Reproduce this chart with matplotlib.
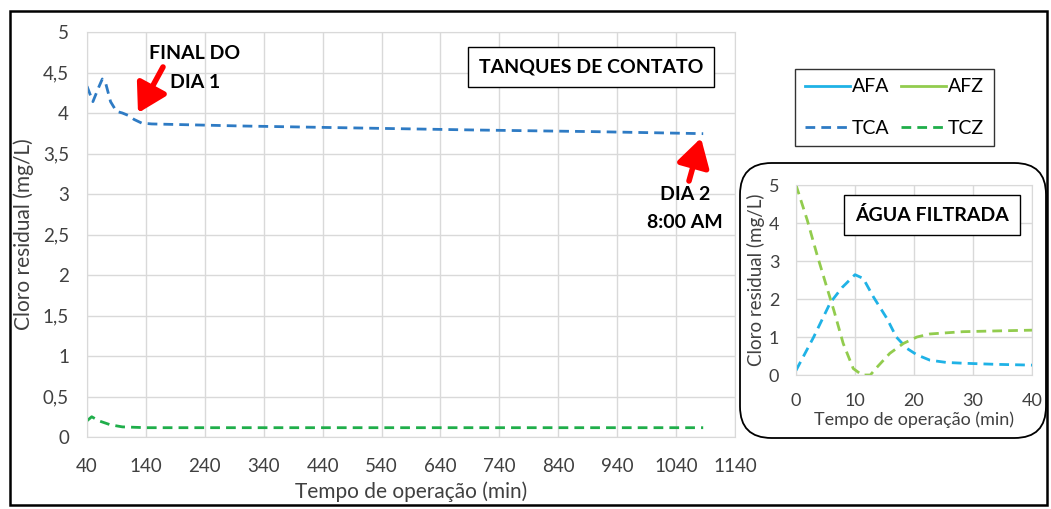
import numpy as np
import matplotlib
matplotlib.use('Agg')
import matplotlib.pyplot as plt
from matplotlib.lines import Line2D
from matplotlib.patches import Rectangle, FancyBboxPatch
from matplotlib.ticker import FuncFormatter

plt.rcParams['font.family'] = ['Lato', 'DejaVu Sans']

# tanques de contato
tca_t = [40, 50, 60, 66, 72, 80, 90, 100, 110, 120, 133, 150, 300, 500, 700, 900, 1086]
tca_v = [4.33, 4.14, 4.32, 4.42, 4.36, 4.14, 4.02, 4.00, 3.97, 3.92, 3.875, 3.865, 3.84, 3.815, 3.79, 3.77, 3.745]
tcz_t = [40, 48, 60, 80, 100, 140, 400, 700, 1086]
tcz_v = [0.20, 0.25, 0.20, 0.15, 0.125, 0.115, 0.115, 0.115, 0.115]

# agua filtrada
af_t = [0, 3, 5.8, 7.8, 10, 11.4, 13.1, 15.4, 17, 18.8, 20.5, 22.7, 25.5, 28.3, 34, 40]
afa_v = [0.12, 1.0, 1.9, 2.3, 2.64, 2.54, 2.06, 1.49, 1.0, 0.7, 0.53, 0.39, 0.33, 0.31, 0.28, 0.26]
afz_t = [0, 1.9, 3.5, 5.2, 6.4, 8, 9.7, 11.2, 12.6, 13.7, 15.9, 18.2, 20.5, 22.7, 28.3, 34, 40]
afz_v = [5.0, 4.08, 3.2, 2.32, 1.71, 0.83, 0.17, 0.0, 0.0, 0.2, 0.57, 0.83, 1.0, 1.08, 1.14, 1.16, 1.18]

c_tca = '#2e7bc4'
c_tcz = '#1fae4a'
c_afa = '#1fb2e6'
c_afz = '#92cc4e'
grid_c = '#d9d9d9'
dash = (0, (3.5, 2.2))

W, H = 1051, 509
fig = plt.figure(figsize=(W / 100, H / 100), dpi=100)


def box(x0, y0, x1, y1):
    return [x0 / W, 1 - y1 / H, (x1 - x0) / W, (y1 - y0) / H]


comma = FuncFormatter(lambda v, p: ('%g' % v).replace('.', ','))

# moldura
fig.add_artist(Rectangle((10 / W, 1 - 505 / H), 1037 / W, 494 / H, transform=fig.transFigure,
                         fill=False, edgecolor='black', linewidth=1.8))

ax = fig.add_axes(box(87, 32, 735, 437))
ax.plot(tca_t, tca_v, color=c_tca, lw=2, linestyle=dash)
ax.plot(tcz_t, tcz_v, color=c_tcz, lw=2, linestyle=dash)
ax.set_xlim(40, 1140)
ax.set_ylim(0, 5)
ax.set_xticks(np.arange(40, 1141, 100))
ax.set_yticks(np.arange(0, 5.01, 0.5))
ax.yaxis.set_major_formatter(comma)
ax.grid(True, color=grid_c, lw=1)
for s in ax.spines.values():
    s.set_color(grid_c)
ax.tick_params(length=0, labelsize=13.5, colors='#404040')
ax.tick_params(axis='x', pad=15)
ax.tick_params(axis='y', pad=13)
ax.set_xlabel('Tempo de operação (min)', fontsize=15, color='#404040', labelpad=5)
ax.set_ylabel('Cloro residual (mg/L)', fontsize=15, color='#404040', labelpad=6)

ax.text(591 / W, 1 - 67 / H, 'TANQUES DE CONTATO', transform=fig.transFigure, ha='center', va='center',
        fontsize=14, fontweight='bold',
        bbox=dict(boxstyle='square,pad=0.58', facecolor='white', edgecolor='black', lw=1))

# anotacoes
ax.text(195 / W, 1 - 53 / H, 'FINAL DO', transform=fig.transFigure, ha='center', va='center',
        fontsize=14, fontweight='bold')
ax.text(195 / W, 1 - 83 / H, 'DIA 1', transform=fig.transFigure, ha='center', va='center',
        fontsize=14, fontweight='bold')
ax.annotate('', xy=(138 / W, 1 - 113 / H), xytext=(163 / W, 1 - 67 / H), xycoords='figure fraction',
            arrowprops=dict(arrowstyle='-|>,head_width=0.5,head_length=0.85', color='red', lw=4,
                            mutation_scale=20, shrinkA=0, shrinkB=0))
ax.text(685 / W, 1 - 195 / H, 'DIA 2', transform=fig.transFigure, ha='center', va='center',
        fontsize=14, fontweight='bold')
ax.text(685 / W, 1 - 223 / H, '8:00 AM', transform=fig.transFigure, ha='center', va='center',
        fontsize=14, fontweight='bold')
ax.annotate('', xy=(701 / W, 1 - 138 / H), xytext=(689 / W, 1 - 181 / H), xycoords='figure fraction',
            arrowprops=dict(arrowstyle='-|>,head_width=0.5,head_length=0.85', color='red', lw=4,
                            mutation_scale=20, shrinkA=0, shrinkB=0))

# legenda
handles = [Line2D([], [], color=c_afa, lw=2),
           Line2D([], [], color=c_tca, lw=2, linestyle=dash),
           Line2D([], [], color=c_afz, lw=2),
           Line2D([], [], color=c_tcz, lw=2, linestyle=dash)]
labels = ['AFA', 'TCA', 'AFZ', 'TCZ']
leg = fig.legend(handles, labels, ncol=2, loc='center', bbox_to_anchor=(894.5 / W, 1 - 107.5 / H),
                 fontsize=14, frameon=True, fancybox=False, edgecolor='black', handlelength=2.3,
                 handletextpad=0.1, columnspacing=0.6, labelspacing=1.25, borderpad=0.5,
                 borderaxespad=0)
leg.get_frame().set_linewidth(1)

# caixa do grafico inserido
fig.add_artist(FancyBboxPatch((740 / W, 1 - 438 / H), 306 / W, 275 / H, transform=fig.transFigure,
                              boxstyle='round,pad=0,rounding_size=0.03', facecolor='white',
                              edgecolor='black', linewidth=1.3, mutation_aspect=W / H, zorder=-1))

ax2 = fig.add_axes(box(796, 185, 1032, 375))
ax2.set_zorder(2)
ax2.plot(af_t, afa_v, color=c_afa, lw=2, linestyle=dash)
ax2.plot(afz_t, afz_v, color=c_afz, lw=2, linestyle=dash)
ax2.set_xlim(0, 40)
ax2.set_ylim(0, 5)
ax2.set_xticks([0, 10, 20, 30, 40])
ax2.set_yticks([0, 1, 2, 3, 4, 5])
ax2.grid(True, color=grid_c, lw=1)
for s in ax2.spines.values():
    s.set_color(grid_c)
ax2.tick_params(length=0, labelsize=13, colors='#404040')
ax2.tick_params(axis='x', pad=13)
ax2.tick_params(axis='y', pad=12)
ax2.set_xlabel('Tempo de operação (min)', fontsize=13, color='#404040', labelpad=2)
ax2.set_ylabel('Cloro residual (mg/L)', fontsize=13.5, color='#404040', labelpad=3)
ax2.text(932 / W, 1 - 215 / H, 'ÁGUA FILTRADA', transform=fig.transFigure, ha='center', va='center',
         fontsize=14, fontweight='bold',
         bbox=dict(boxstyle='square,pad=0.55', facecolor='white', edgecolor='black', lw=1))

fig.savefig('out.png', dpi=100)
